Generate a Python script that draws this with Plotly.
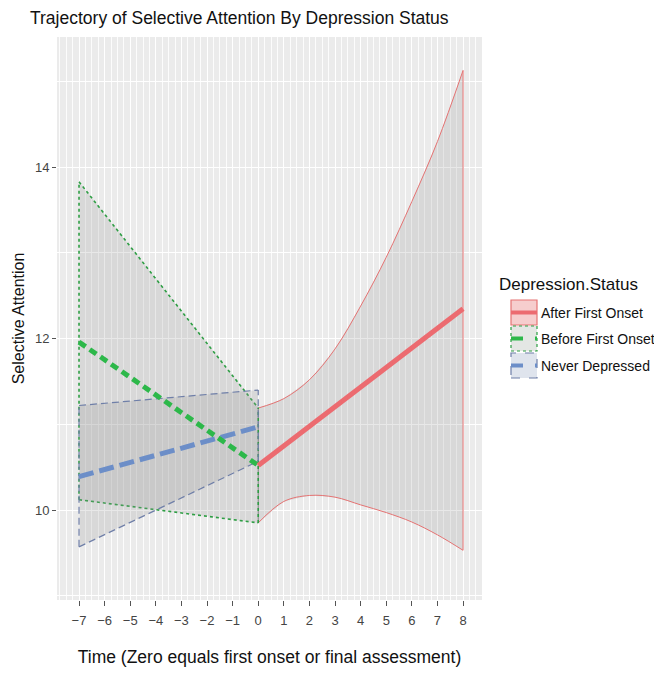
import plotly.graph_objects as go

# ---------------- data ----------------
x_pre = [-7, 0]
before_fit = [11.96, 10.52]
before_upper = [13.83, 11.19]
before_lower = [10.12, 9.85]
never_fit = [10.39, 10.97]
never_upper = [11.22, 11.40]
never_lower = [9.57, 10.57]

x_post_fit = [0, 8]
after_fit = [10.52, 12.35]
x_post = [0, 1, 2, 3, 4, 5, 6, 7, 8]
after_upper = [11.19, 11.30, 11.52, 11.88, 12.38, 12.95, 13.60, 14.30, 15.13]
after_lower = [9.85, 10.10, 10.17, 10.15, 10.06, 9.97, 9.86, 9.71, 9.53]

x_ticks = [-7, -6, -5, -4, -3, -2, -1, 0, 1, 2, 3, 4, 5, 6, 7, 8]
y_ticks = [10, 12, 14]
series_names = ["After First Onset", "Before First Onset", "Never Depressed"]

# ---------------- styles ----------------
FONT = "Liberation Sans, Arial, sans-serif"
RED, GREEN, BLUE = "#EC6B70", "#2DB84A", "#6C8EC8"
RED_EDGE, GREEN_EDGE, BLUE_EDGE = "#E57373", "#2E9E44", "#6F7FA8"
BAND_FILL = "rgba(150,150,150,0.22)"

fig = go.Figure()


def add_band(xs, up, lo, edge_color, dash, width, shape, edge_override=None):
    fig.add_trace(go.Scatter(
        x=list(xs) + list(xs)[::-1], y=list(up) + list(lo)[::-1],
        fill="toself", fillcolor=BAND_FILL, mode="lines",
        line=dict(width=0), hoverinfo="skip", showlegend=False))
    for yy in (up, lo):
        fig.add_trace(go.Scatter(
            x=xs, y=yy, mode="lines",
            line=dict(color=edge_color, width=width, dash=dash, shape=shape),
            hoverinfo="skip", showlegend=False))
    for i in (0, -1):
        col = edge_color
        if edge_override and i in edge_override:
            col = edge_override[i]
        fig.add_trace(go.Scatter(
            x=[xs[i], xs[i]], y=[lo[i], up[i]], mode="lines",
            line=dict(color=col, width=width, dash=dash),
            hoverinfo="skip", showlegend=False))


add_band(x_post, after_upper, after_lower, RED_EDGE, "solid", 1, "spline",
         edge_override={0: "#7A7A7A"})
add_band(x_pre, before_upper, before_lower, GREEN_EDGE, "3px,3px", 1.6, "linear")
add_band(x_pre, never_upper, never_lower, BLUE_EDGE, "7px,4px", 1.2, "linear")

fig.add_trace(go.Scatter(x=x_pre, y=never_fit, mode="lines", name=series_names[2],
                         line=dict(color=BLUE, width=5, dash="15px,6px"), showlegend=False))
fig.add_trace(go.Scatter(x=x_pre, y=before_fit, mode="lines", name=series_names[1],
                         line=dict(color=GREEN, width=5, dash="8px,5px"), showlegend=False))
fig.add_trace(go.Scatter(x=x_post_fit, y=after_fit, mode="lines", name=series_names[0],
                         line=dict(color=RED, width=5), showlegend=False))

# ---------------- geometry (page body adds an 8px offset) ----------------
OFF = 8
W, H = 654, 665
L, R, T, B = 49, 180, 29, 73
pw, ph = W - L - R, H - T - B


def px(xs):  # screen x -> paper
    return (xs - OFF - L) / pw


def py(ys):  # screen y -> paper
    return (H - B - (ys - OFF)) / ph


keys = [
    (300, "rgba(245,200,200,0.9)", RED_EDGE, "solid", RED, "solid"),
    (326, "rgba(225,228,225,0.9)", GREEN_EDGE, "dot", GREEN, "dash"),
    (353, "rgba(220,225,235,0.9)", BLUE_EDGE, "dash", BLUE, "dash"),
]
for (top, fillc, edge, edash, lc, ldash), name in zip(keys, series_names):
    fig.add_shape(type="rect", xref="paper", yref="paper",
                  x0=px(511), x1=px(537), y0=py(top + 25), y1=py(top),
                  fillcolor=fillc, line=dict(color=edge, width=1.2, dash=edash), layer="above")
    fig.add_shape(type="line", xref="paper", yref="paper",
                  x0=px(511), x1=px(537), y0=py(top + 12.5), y1=py(top + 12.5),
                  line=dict(color=lc, width=4, dash=ldash), layer="above")
    fig.add_annotation(xref="paper", yref="paper", x=px(539), y=py(top + 12.5),
                       text=name, showarrow=False, xanchor="left", yanchor="middle",
                       font=dict(family=FONT, size=14, color="#111111"))
fig.add_annotation(xref="paper", yref="paper", x=px(497), y=py(284),
                   text="Depression.Status", showarrow=False, xanchor="left", yanchor="middle",
                   font=dict(family=FONT, size=17, color="#111111"))

# ---------------- layout ----------------
fig.update_layout(
    width=W, height=H,
    margin=dict(l=L, r=R, t=T, b=B, autoexpand=False),
    paper_bgcolor="white", plot_bgcolor="#EBEBEB",
    font=dict(family=FONT, color="#222222"),
    title=dict(text="Trajectory of Selective Attention By Depression Status",
               x=22 / W, xanchor="left", xref="container",
               y=1 - 4 / H, yanchor="top", yref="container",
               pad=dict(t=0, b=0, l=0, r=0),
               font=dict(family=FONT, size=17.5, color="#111111")),
    showlegend=False,
)
fig.update_xaxes(
    range=[-7.86, 8.74], tickvals=x_ticks,
    ticktext=[("\u2212" + str(-v)) if v < 0 else str(v) for v in x_ticks],
    showgrid=True, gridcolor="white", gridwidth=1.4, zeroline=False,
    minor=dict(dtick=0.25, tick0=0, showgrid=True, gridcolor="rgba(255,255,255,0.85)", gridwidth=0.8),
    ticks="outside", ticklen=5, tickcolor="#555555", tickwidth=1, ticklabelstandoff=3,
    tickfont=dict(family=FONT, size=13, color="#444444"),
    title=dict(text="Time (Zero equals first onset or final assessment)", standoff=24,
               font=dict(family=FONT, size=17.5, color="#111111")),
    showline=False, automargin=False,
)
fig.update_yaxes(
    range=[8.95, 15.52], tickvals=y_ticks, ticktext=[str(v) for v in y_ticks],
    showgrid=True, gridcolor="white", gridwidth=1.4, zeroline=False,
    minor=dict(dtick=1, tick0=0, showgrid=True, gridcolor="white", gridwidth=0.8),
    ticks="outside", ticklen=4, tickcolor="#555555", tickwidth=1,
    tickfont=dict(family=FONT, size=13, color="#444444"),
    title=dict(text="Selective Attention", standoff=6,
               font=dict(family=FONT, size=16, color="#111111")),
    showline=False, automargin=False,
)

fig.write_html("out.html")
